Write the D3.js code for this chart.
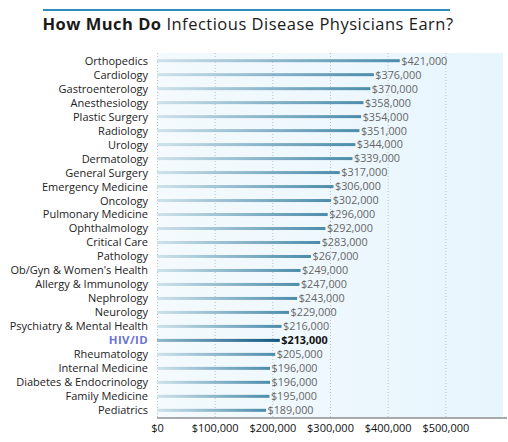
<!DOCTYPE html>
<html>
<head>
<meta charset="utf-8">
<script src="https://cdn.jsdelivr.net/npm/d3@7"></script>
<style>
  body { margin: 0; background: #fff; }
  svg { display: block; font-family: "Open Sans", Lato, sans-serif; }
</style>
</head>
<body>
<svg id="chart" width="508" height="442"></svg>
<script>
  "use strict";

  // specialties, top to bottom
  const specialties = [
    "Orthopedics", "Cardiology", "Gastroenterology", "Anesthesiology", "Plastic Surgery",
    "Radiology", "Urology", "Dermatology", "General Surgery", "Emergency Medicine",
    "Oncology", "Pulmonary Medicine", "Ophthalmology", "Critical Care", "Pathology",
    "Ob/Gyn & Women's Health", "Allergy & Immunology", "Nephrology", "Neurology",
    "Psychiatry & Mental Health", "HIV/ID", "Rheumatology", "Internal Medicine",
    "Diabetes & Endocrinology", "Family Medicine", "Pediatrics"
  ];
  const earnings = [
    421000, 376000, 370000, 358000, 354000,
    351000, 344000, 339000, 317000, 306000,
    302000, 296000, 292000, 283000, 267000,
    249000, 247000, 243000, 229000,
    216000, 213000, 205000, 196000,
    196000, 195000, 189000
  ];
  const highlight = "HIV/ID";
  const xTicks = [0, 100000, 200000, 300000, 400000, 500000];

  const svg = d3.select("#chart"),
    margin = { top: 53, right: 5, bottom: 24, left: 157 },
    W = +svg.attr("width"), H = +svg.attr("height"),
    plotW = W - margin.left - margin.right,
    plotH = H - margin.top - margin.bottom;

  const defs = svg.append("defs");
  const bgGrad = defs.append("linearGradient").attr("id", "bg");
  bgGrad.append("stop").attr("offset", "0%").attr("stop-color", "#f4fafd");
  bgGrad.append("stop").attr("offset", "100%").attr("stop-color", "#e7f5fd");

  const barGrad = defs.append("linearGradient").attr("id", "bar");
  barGrad.append("stop").attr("offset", "0%").attr("stop-color", "#cfe2eb");
  barGrad.append("stop").attr("offset", "100%").attr("stop-color", "#4b8cab");

  const hiGrad = defs.append("linearGradient").attr("id", "barHi");
  hiGrad.append("stop").attr("offset", "0%").attr("stop-color", "#8fb7cc");
  hiGrad.append("stop").attr("offset", "100%").attr("stop-color", "#0f557f");

  // title
  svg.append("line")
    .attr("x1", 43).attr("x2", 450).attr("y1", 10).attr("y2", 10)
    .attr("stroke", "#2e8dbd").attr("stroke-width", 2);
  const title = svg.append("text")
    .attr("x", 248).attr("y", 29.5)
    .attr("text-anchor", "middle")
    .attr("font-size", 16.5)
    .attr("letter-spacing", 0.5)
    .attr("fill", "#1a1a1a");
  title.append("tspan").attr("font-weight", "bold").text("How Much Do");
  title.append("tspan").text(" Infectious Disease Physicians Earn?");

  const g = svg.append("g").attr("transform", `translate(${margin.left},${margin.top})`);

  const x = d3.scaleLinear().domain([0, 600000]).range([0, plotW]);
  const y = d3.scaleBand().domain(specialties).range([0, plotH]).paddingOuter(0.05);

  g.append("rect")
    .attr("width", plotW).attr("height", plotH)
    .attr("fill", "url(#bg)");

  // dotted grid
  g.selectAll(".grid")
    .data(xTicks)
    .enter()
    .append("line")
    .attr("x1", d => x(d) + 0.5).attr("x2", d => x(d) + 0.5)
    .attr("y1", 0).attr("y2", plotH)
    .attr("stroke", "#b9c2c8")
    .attr("stroke-width", 1)
    .attr("stroke-dasharray", "1,2");

  const rows = g.selectAll(".row")
    .data(specialties)
    .enter()
    .append("g")
    .attr("transform", d => `translate(0,${y(d) + y.bandwidth() / 2})`);

  rows.append("rect")
    .attr("x", 0)
    .attr("y", -1.5)
    .attr("height", 3)
    .attr("width", (d, i) => x(earnings[i]))
    .attr("fill", d => d === highlight ? "url(#barHi)" : "url(#bar)");

  rows.append("text")
    .attr("x", (d, i) => x(earnings[i]) + 1.5)
    .attr("dy", "0.36em")
    .attr("font-size", 10.8)
    .attr("font-weight", d => d === highlight ? "bold" : "normal")
    .attr("fill", d => d === highlight ? "#111" : "#666")
    .text((d, i) => d3.format("$,")(earnings[i]));

  rows.append("text")
    .attr("x", -9)
    .attr("dy", "0.36em")
    .attr("text-anchor", "end")
    .attr("font-size", d => d === highlight ? 11.4 : 11)
    .attr("font-weight", d => d === highlight ? "bold" : "normal")
    .attr("letter-spacing", d => d === highlight ? 0.4 : 0)
    .attr("fill", d => d === highlight ? "#6b72d2" : "#222")
    .text(d => d);

  // bottom axis
  const xAxis = g.append("g")
    .attr("transform", `translate(0,${plotH})`)
    .call(d3.axisBottom(x).tickValues(xTicks).tickSize(0).tickPadding(6)
      .tickFormat(d3.format("$,")));
  xAxis.select(".domain")
    .attr("stroke", "#a9a9a9").attr("stroke-width", 2)
    .attr("d", `M0,0H${plotW + 4}`);
  xAxis.selectAll("text")
    .attr("font-family", "'Open Sans', Lato, sans-serif")
    .attr("font-size", 11).attr("fill", "#111");
</script>
</body>
</html>
